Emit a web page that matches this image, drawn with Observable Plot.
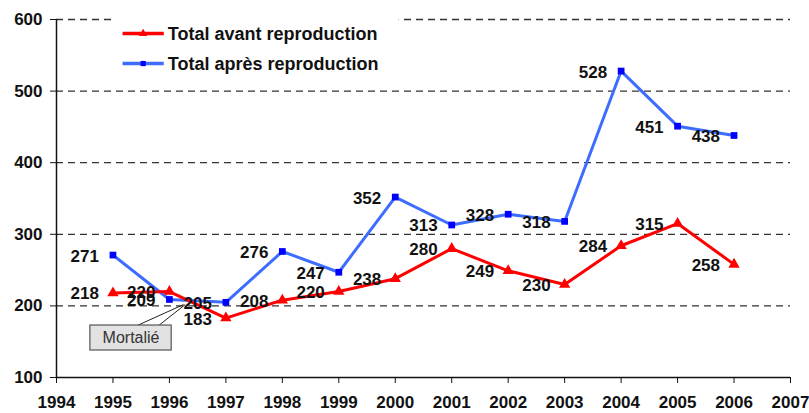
<!DOCTYPE html>
<html>
<head>
<meta charset="utf-8">
<script src="https://cdn.jsdelivr.net/npm/d3@7"></script>
<script src="https://cdn.jsdelivr.net/npm/@observablehq/plot@0.6"></script>
<style>
  html, body { margin: 0; padding: 0; background: #fff; }
</style>
</head>
<body>
<div id="chart"></div>
<script>
const years = [1995, 1996, 1997, 1998, 1999, 2000, 2001, 2002, 2003, 2004, 2005, 2006];
const avant = [218, 220, 183, 208, 220, 238, 280, 249, 230, 284, 315, 258];
const apres = [271, 209, 205, 276, 247, 352, 313, 328, 318, 528, 451, 438];
const seriesNames = ["Total avant reproduction", "Total après reproduction"];
const seriesColors = ["#ff0000", "#3d6dff"];
const markerColors = ["#ff0000", "#0000ff"];
const yTicks = [100, 200, 300, 400, 500, 600];
const xTicks = [1994, 1995, 1996, 1997, 1998, 1999, 2000, 2001, 2002, 2003, 2004, 2005, 2006, 2007];
const gridTicks = [200, 300, 400, 500, 600];
const annotationText = "Mortalié";

const rows = [];
years.forEach((yr, i) => rows.push({year: yr, value: avant[i], series: seriesNames[0]}));
years.forEach((yr, i) => rows.push({year: yr, value: apres[i], series: seriesNames[1]}));
const rowsA = rows.filter(d => d.series === seriesNames[0]);
const rowsB = rows.filter(d => d.series === seriesNames[1]);

// legend placement (data space)
const legend = [
  {name: seriesNames[0], color: seriesColors[0], marker: markerColors[0], symbol: "triangle", y: 580.4},
  {name: seriesNames[1], color: seriesColors[1], marker: markerColors[1], symbol: "square", y: 538.5}
];

const chart = Plot.plot({
  width: 809,
  height: 413,
  marginLeft: 56,
  marginRight: 19,
  marginTop: 19,
  marginBottom: 36,
  x: {domain: [1994, 2007], axis: null},
  y: {domain: [100, 600], axis: null},
  style: {fontFamily: "'Liberation Sans', Arial, sans-serif", fontSize: "17px", fontWeight: "bold", color: "#111", background: "#fff"},
  marks: [
    Plot.ruleY(gridTicks, {x1: 1994, x2: 2007, stroke: "#333", strokeWidth: 1.3, strokeDasharray: "7,5"}),
    // legend background
    Plot.rect([0], {x1: 1995.02, x2: 2000.07, y1: 510, y2: 615, fill: "#fff"}),
    // axis lines
    Plot.ruleX([1994], {y1: 100, y2: 600, stroke: "#111", strokeWidth: 1.5}),
    Plot.ruleY([100], {x1: 1994, x2: 2007, stroke: "#111", strokeWidth: 1.5}),
    Plot.axisY({ticks: yTicks, tickSize: 6, tickPadding: 8, tickFormat: "d", label: null, fill: "#111", stroke: "#111"}),
    Plot.axisX({ticks: xTicks, tickSize: 6, tickPadding: 12, tickFormat: "d", label: null, fill: "#111", stroke: "#111"}),
    // series lines
    Plot.line(rowsB, {x: "year", y: "value", stroke: seriesColors[1], strokeWidth: 3}),
    Plot.line(rowsA, {x: "year", y: "value", stroke: seriesColors[0], strokeWidth: 3}),
    Plot.dot(rowsB, {x: "year", y: "value", symbol: "square", r: 3.8, fill: markerColors[1], stroke: "none"}),
    Plot.dot(rowsA, {x: "year", y: "value", symbol: "triangle", r: 4.2, fill: markerColors[0], stroke: "none"}),
    // value labels
    Plot.text(rows, {x: "year", y: "value", text: d => String(d.value), textAnchor: "end", dx: -14, dy: 1, fill: "#111", fontSize: 17, fontWeight: "bold"}),
    // annotation callout
    Plot.link([0, 1], {x1: d => [1995.43, 1995.81][d], y1: 172.6, x2: d => [1996.25, 1996.28][d], y2: 201.9, stroke: "#222", strokeWidth: 1}),
    Plot.rect([0], {x1: 1994.6, x2: 1996.04, y1: 137.7, y2: 172.6, fill: "#e2e2e2", stroke: "#555", strokeWidth: 1.2}),
    Plot.text([annotationText], {x: 1995.32, y: 155, text: d => d, fontSize: 16, fontWeight: "normal", fill: "#333"}),
    // legend
    Plot.link(legend, {x1: 1995.17, x2: 1995.9, y1: "y", y2: "y", stroke: "color", strokeWidth: 3.5}),
    Plot.dot(legend, {x: 1995.535, y: "y", symbol: "symbol", fill: "marker", r: d => d.symbol === "triangle" ? 4.2 : 3.8, stroke: "none"}),
    Plot.text(legend, {x: 1995.97, y: "y", text: "name", textAnchor: "start", fontSize: 18, fontWeight: "bold", fill: "#111", dy: 1})
  ]
});
document.getElementById("chart").appendChild(chart);
</script>
</body>
</html>
